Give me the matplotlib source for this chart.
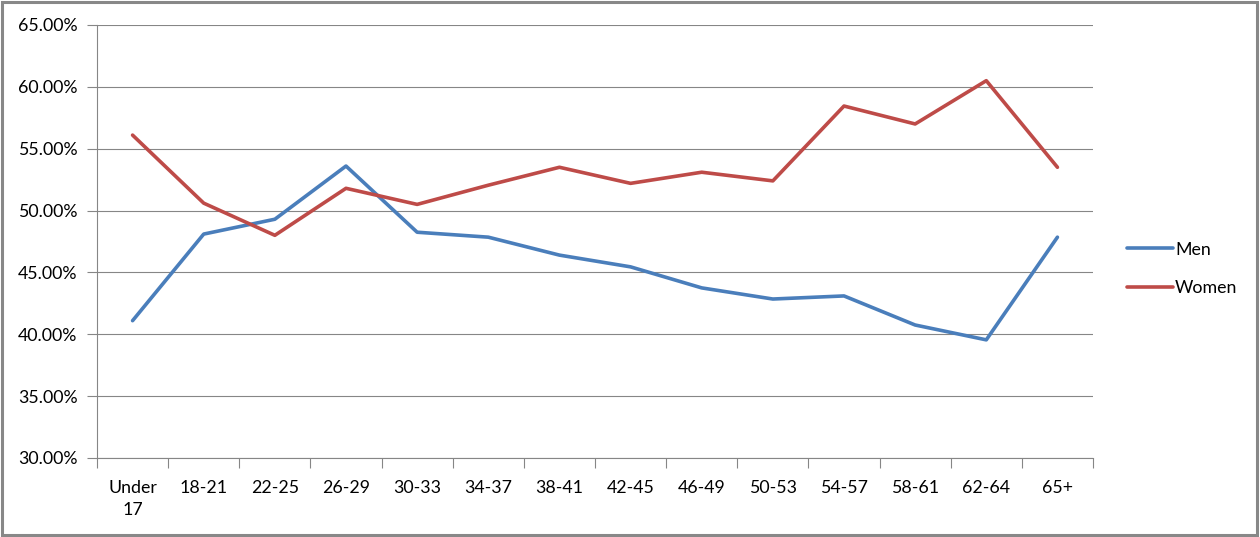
import matplotlib
matplotlib.use("Agg")
import matplotlib.pyplot as plt
from matplotlib.patches import Rectangle
from matplotlib.ticker import FuncFormatter

categories = ["Under\n17", "18-21", "22-25", "26-29", "30-33", "34-37", "38-41",
              "42-45", "46-49", "50-53", "54-57", "58-61", "62-64", "65+"]
men = [41.1, 48.1, 49.3, 53.6, 48.25, 47.85, 46.4, 45.45, 43.75, 42.85, 43.1, 40.75, 39.55, 47.85]
women = [56.1, 50.6, 48.0, 51.8, 50.5, 52.05, 53.5, 52.2, 53.1, 52.4, 58.45, 57.0, 60.5, 53.5]
yticks = [30, 35, 40, 45, 50, 55, 60, 65]

plt.rcParams['font.family'] = ['Lato', 'DejaVu Sans']
FS = 12.8
fig = plt.figure(figsize=(12.6, 5.37), dpi=100)
ax = fig.add_axes([97/1260, 79/537, (1093-97)/1260, (458-25)/537])

x = list(range(len(categories)))
ax.plot(x, men, color="#4A7EBB", lw=2.6, label="Men", solid_capstyle="round")
ax.plot(x, women, color="#BE4B48", lw=2.6, label="Women", solid_capstyle="round")

ax.set_xlim(-0.5, len(categories) - 0.5)
ax.set_ylim(30, 65)
ax.set_yticks(yticks)
ax.yaxis.set_major_formatter(FuncFormatter(lambda v, p: f"{v:.2f}%"))
ax.grid(axis="y", color="#868686", lw=0.8)
ax.set_axisbelow(True)

ax.set_xticks([i + 0.5 for i in range(-1, len(categories))])
ax.set_xticklabels([])
ax.set_xticks(x, minor=True)
ax.set_xticklabels(categories, minor=True, fontsize=FS, linespacing=1.45)
ax.tick_params(axis="x", which="minor", length=0, pad=16)
ax.tick_params(axis="x", which="major", length=7, color="#868686", width=0.8)
ax.tick_params(axis="y", length=7, color="#868686", width=0.8, labelsize=FS, pad=7)

for s in ["top", "right"]:
    ax.spines[s].set_visible(False)
for s in ["left", "bottom"]:
    ax.spines[s].set_color("#868686")
    ax.spines[s].set_linewidth(0.8)

leg = ax.legend(loc="center left", bbox_to_anchor=(1.018, 0.437), frameon=False,
                fontsize=FS, handlelength=2.6, handletextpad=0.1, labelspacing=1.25)

fig.patches.append(Rectangle((0.0015, 0.003), 0.9965, 0.994, transform=fig.transFigure,
                             fill=False, edgecolor="#888888", lw=2.2))
fig.savefig("out.png", dpi=100)
